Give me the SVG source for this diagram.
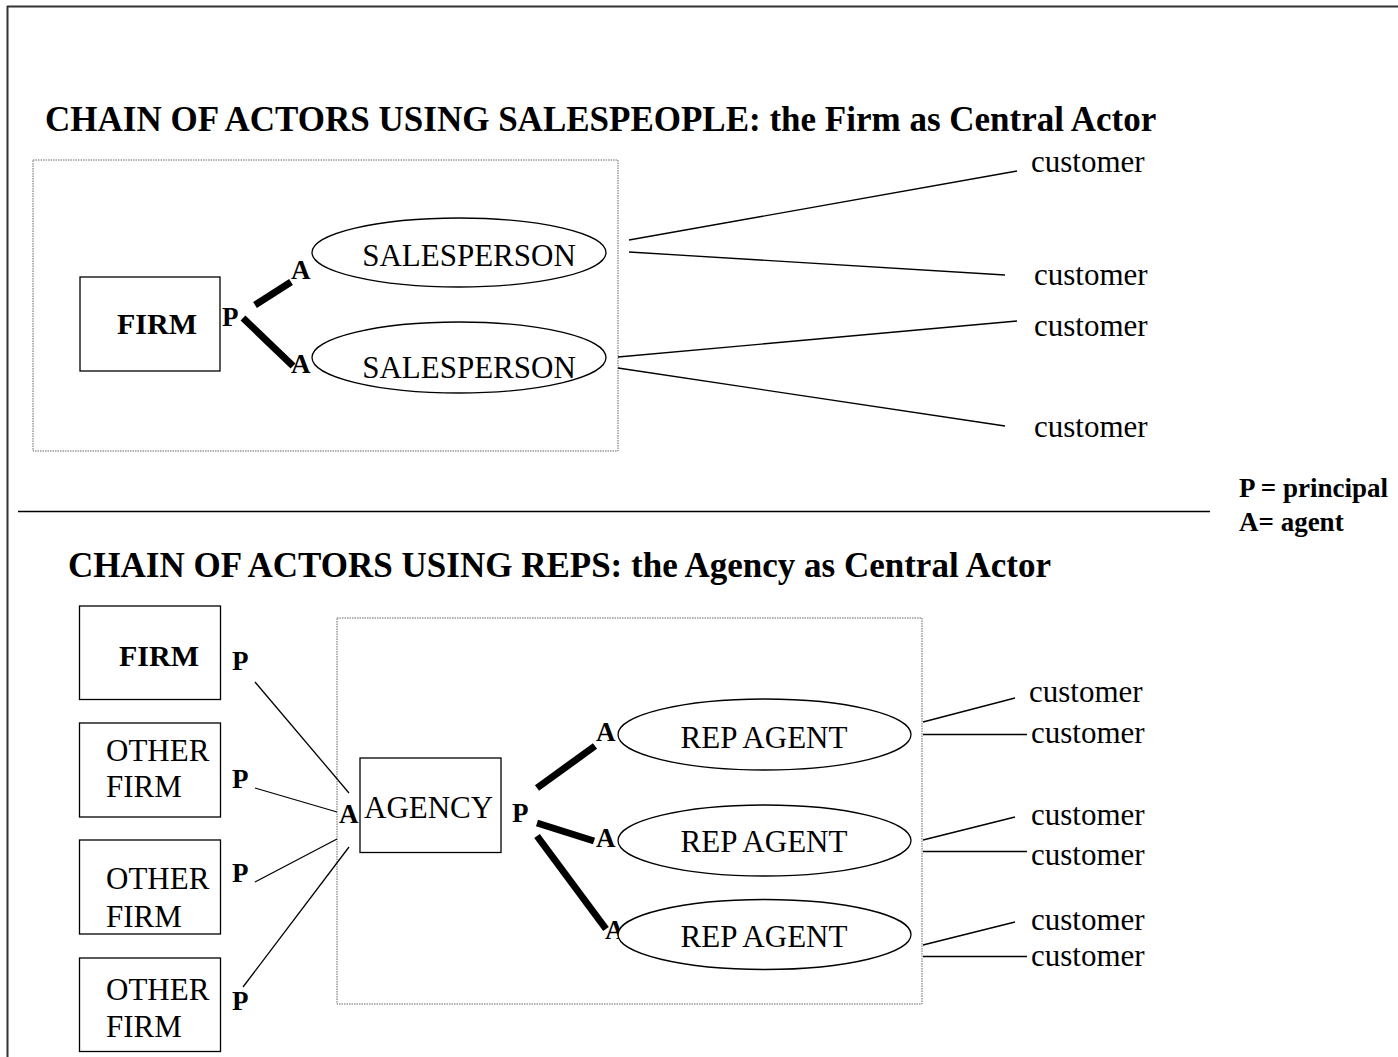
<svg xmlns="http://www.w3.org/2000/svg" width="1398" height="1057" viewBox="0 0 1398 1057">
<style>
text{font-family:"Liberation Serif","Times New Roman",serif;fill:#000}
.r{font-size:31px}
.b{font-size:30px;font-weight:bold}
.t{font-size:35px;font-weight:bold}
.lb{font-size:27px;font-weight:bold}
.lg{font-size:27px;font-weight:bold}
.box{fill:#fff;stroke:#000;stroke-width:1.3}
.ell{fill:#fff;stroke:#000;stroke-width:1.3}
.dot{fill:none;stroke:#666;stroke-width:1;stroke-dasharray:1.5 1}
.thin{stroke:#000;stroke-width:1.3;fill:none}
.thick{stroke:#000;stroke-width:7;fill:none}
</style>
<rect width="1398" height="1057" fill="#fff"/>
<g id="frame">
<line x1="7" y1="6.5" x2="1398" y2="6.5" stroke="#333" stroke-width="2"/>
<line x1="7.5" y1="6" x2="7.5" y2="1057" stroke="#333" stroke-width="2"/>
<line x1="18" y1="511.5" x2="1210" y2="511.5" stroke="#000" stroke-width="1.3"/>
</g>
<g id="titles">
<text class="t" x="45" y="131">CHAIN OF ACTORS USING SALESPEOPLE: the Firm as Central Actor</text>
<text class="t" x="68" y="577">CHAIN OF ACTORS USING REPS: the Agency as Central Actor</text>
</g>
<g id="legend">
<text class="lg" x="1239" y="497">P = principal</text>
<text class="lg" x="1239" y="531">A= agent</text>
</g>
<g id="group-firm-top"><rect class="dot" x="33" y="160" width="585" height="291"/></g>
<g id="group-agency"><rect class="dot" x="337" y="618" width="585" height="386"/></g>
<g id="connectors">
<line class="thick" x1="255" y1="305" x2="291" y2="282"/>
<line class="thick" x1="243" y1="318" x2="293" y2="366"/>
<line class="thin" x1="629" y1="240" x2="1017" y2="171"/>
<line class="thin" x1="629" y1="252" x2="1005" y2="275"/>
<line class="thin" x1="618" y1="357" x2="1017" y2="321"/>
<line class="thin" x1="618" y1="368" x2="1005" y2="426"/>
<line class="thin" x1="255" y1="682" x2="349" y2="793"/>
<line class="thin" x1="255" y1="788" x2="337" y2="812"/>
<line class="thin" x1="255" y1="882" x2="337" y2="839"/>
<line class="thin" x1="243" y1="987" x2="349" y2="847"/>
<line class="thick" x1="537" y1="788" x2="595" y2="746"/>
<line class="thick" x1="537" y1="823" x2="594" y2="841"/>
<line class="thick" x1="537" y1="836" x2="606" y2="929"/>
<line class="thin" x1="923" y1="722" x2="1015" y2="698"/>
<line class="thin" x1="923" y1="734.5" x2="1027" y2="734.5"/>
<line class="thin" x1="923" y1="840" x2="1015" y2="817"/>
<line class="thin" x1="923" y1="851.5" x2="1027" y2="851.5"/>
<line class="thin" x1="923" y1="945" x2="1015" y2="922"/>
<line class="thin" x1="923" y1="956.5" x2="1027" y2="956.5"/>
</g>
<g id="labels">
<text class="lb" x="222" y="326">P</text>
<text class="lb" x="291" y="279">A</text>
<text class="lb" x="291" y="373">A</text>
<text class="lb" x="232" y="670">P</text>
<text class="lb" x="232" y="788">P</text>
<text class="lb" x="232" y="882">P</text>
<text class="lb" x="232" y="1010">P</text>
<text class="lb" x="339" y="823">A</text>
<text class="lb" x="512" y="822">P</text>
<text class="lb" x="596" y="741">A</text>
<text class="lb" x="596" y="847">A</text>
<text class="lb" x="605" y="939">A</text>
</g>
<g id="firm-top"><rect class="box" x="80" y="277" width="140" height="94"/><text class="b" x="157" y="334" text-anchor="middle">FIRM</text></g>
<g id="salesperson-1"><ellipse class="ell" cx="459" cy="252.5" rx="147" ry="34.5"/><text class="r" x="469" y="266" text-anchor="middle">SALESPERSON</text></g>
<g id="salesperson-2"><ellipse class="ell" cx="459" cy="357.5" rx="147" ry="35.5"/><text class="r" x="469" y="378" text-anchor="middle">SALESPERSON</text></g>
<g id="customers-top">
<text class="r" x="1031" y="172">customer</text>
<text class="r" x="1034" y="285">customer</text>
<text class="r" x="1034" y="336">customer</text>
<text class="r" x="1034" y="437">customer</text>
</g>
<g id="firm-bottom"><rect class="box" x="79.5" y="606" width="141" height="93.5"/><text class="b" x="159" y="666" text-anchor="middle">FIRM</text></g>
<g id="other-firm-1"><rect class="box" x="79.5" y="723" width="141" height="94"/><text class="r" x="106" y="761">OTHER</text><text class="r" x="106" y="797">FIRM</text></g>
<g id="other-firm-2"><rect class="box" x="79.5" y="840" width="141" height="94"/><text class="r" x="106" y="889">OTHER</text><text class="r" x="106" y="927">FIRM</text></g>
<g id="other-firm-3"><rect class="box" x="79.5" y="958" width="141" height="93.5"/><text class="r" x="106" y="1000">OTHER</text><text class="r" x="106" y="1037">FIRM</text></g>
<g id="agency"><rect class="box" x="360" y="758" width="141" height="94.5"/><text class="r" x="364" y="818">AGENCY</text></g>
<g id="rep-agent-1"><ellipse class="ell" cx="764.5" cy="734.5" rx="146.5" ry="35.5"/><text class="r" x="764" y="748" text-anchor="middle">REP AGENT</text></g>
<g id="rep-agent-2"><ellipse class="ell" cx="764.5" cy="840.5" rx="146.5" ry="35.5"/><text class="r" x="764" y="852" text-anchor="middle">REP AGENT</text></g>
<g id="rep-agent-3"><ellipse class="ell" cx="764.5" cy="934.5" rx="146.5" ry="35"/><text class="r" x="764" y="947" text-anchor="middle">REP AGENT</text></g>
<g id="customers-bottom">
<text class="r" x="1029" y="702">customer</text>
<text class="r" x="1031" y="743">customer</text>
<text class="r" x="1031" y="825">customer</text>
<text class="r" x="1031" y="865">customer</text>
<text class="r" x="1031" y="930">customer</text>
<text class="r" x="1031" y="966">customer</text>
</g>
</svg>
